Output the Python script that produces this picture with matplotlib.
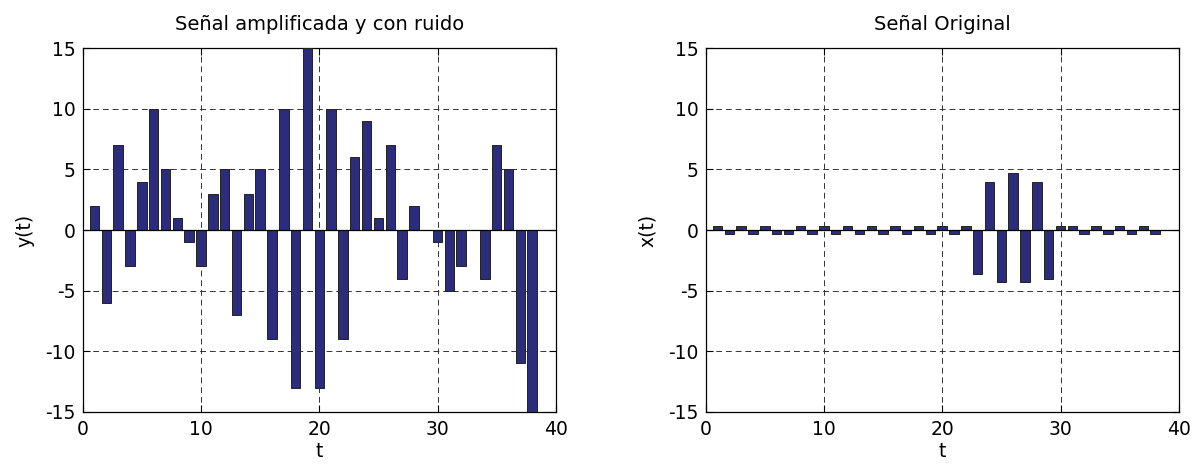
import matplotlib.pyplot as plt
import numpy as np

plt.rcParams['font.family'] = ['DejaVu Sans']
plt.rcParams['axes.unicode_minus'] = False

# Datos
t = np.arange(1, 39)
y_ruido = [2, -6, 7, -3, 4, 10, 5, 1, -1, -3,
           3, 5, -7, 3, 5, -9, 10, -13, 15, -13,
           10, -9, 6, 9, 1, 7, -4, 2, 0, -1,
           -5, -3, 0, -4, 7, 5, -11, -15]
x_orig = [0.33, -0.3, 0.33, -0.3, 0.33, -0.3, -0.3, 0.33, -0.3, 0.33,
          -0.3, 0.33, -0.3, 0.33, -0.3, 0.33, -0.3, 0.33, -0.3, 0.33,
          -0.3, 0.33, -3.6, 4.0, -4.3, 4.7, -4.3, 4.0, -4.0, 0.33,
          0.33, -0.3, 0.33, -0.3, 0.33, -0.3, 0.33, -0.3]

titulos = ['Señal amplificada y con ruido', 'Señal Original']
ylabels = ['y(t)', 'x(t)']
xticks = [0, 10, 20, 30, 40]
yticks = [-15, -10, -5, 0, 5, 10, 15]

color_barra = '#2b2c7c'
fs = 13.5

fig = plt.figure(figsize=(11.98, 4.68), dpi=100)
ax1 = fig.add_axes([0.069, 0.12, 0.395, 0.777])
ax2 = fig.add_axes([0.589, 0.12, 0.395, 0.777])

for ax, datos, titulo, ylab in zip([ax1, ax2], [y_ruido, x_orig], titulos, ylabels):
    ax.bar(t, datos, width=0.8, color=color_barra, edgecolor='#222222',
           linewidth=0.7, zorder=3)
    ax.axhline(0, color='black', linewidth=0.9, zorder=4)
    ax.set_xlim(0, 40)
    ax.set_ylim(-15, 15)
    ax.set_xticks(xticks)
    ax.set_yticks(yticks)
    ax.grid(True, color='#333333', linestyle=(0, (6, 4)), linewidth=0.7, zorder=1)
    ax.tick_params(direction='in', top=True, right=True, length=5,
                   labelsize=fs, width=0.8)
    ax.tick_params(axis='y', pad=5)
    ax.tick_params(axis='x', pad=6)
    ax.set_title(titulo, fontsize=14, pad=13)
    ax.set_xlabel('t', fontsize=fs, labelpad=2)
    ax.set_ylabel(ylab, fontsize=fs, labelpad=8)
    for s in ax.spines.values():
        s.set_linewidth(0.9)

fig.savefig('out.png', dpi=100)
